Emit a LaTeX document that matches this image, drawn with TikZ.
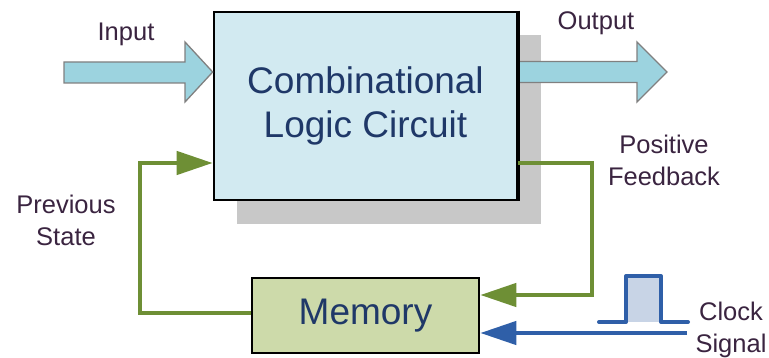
\documentclass[tikz,border=0pt]{standalone}
\usepackage{fontspec}
\setmainfont{Liberation Sans}
\usetikzlibrary{arrows.meta,calc}
\definecolor{boxblue}{HTML}{D2EAF1}
\definecolor{shadowgray}{HTML}{C8C8C8}
\definecolor{memgreen}{HTML}{CDDAAA}
\definecolor{linegreen}{HTML}{6E8F35}
\definecolor{lineblue}{HTML}{2F5FA8}
\definecolor{arrowcyan}{HTML}{9CD3DF}
\definecolor{arrowedge}{HTML}{808080}
\definecolor{pulsefill}{HTML}{C8D4E6}
\definecolor{labelcol}{HTML}{3A2440}
\definecolor{navy}{HTML}{1F3868}
\begin{document}
\begin{tikzpicture}[x=1pt,y=-1pt,
  blockbox/.style={draw=black,line width=2.6pt,inner sep=0pt,align=center,
    text=navy,font=\fontsize{37}{44}\selectfont},
  lbl/.style={text=labelcol,font=\fontsize{25.5}{32}\selectfont,align=center,inner sep=0pt,anchor=north},
  bigarrow/.style={fill=arrowcyan,draw=arrowedge,line width=1.3pt,line join=miter},
  fbline/.style={draw=linegreen,line width=4.5pt,line join=miter,
    -{Triangle[length=36pt,width=23pt]}},
  clkline/.style={draw=lineblue,line width=4.5pt,
    -{Triangle[length=36pt,width=23pt]}}
]
\useasboundingbox (0,0) rectangle (769,358);
% shadow
\fill[shadowgray] (237,35) rectangle (541,224);
% main block
\node[blockbox,fill=boxblue,minimum width=303pt,minimum height=188pt] (main) at (365.5,106)
  {Combinational\\Logic Circuit};
% memory block
\node[blockbox,fill=memgreen,minimum width=227pt,minimum height=75pt] (mem) at (365.5,315.5) {Memory};
% input arrow
\coordinate (inT) at (main.west |- 0,72);
\draw[bigarrow] (64,62) -- (185,62) -- (185,42) -- (inT) -- (185,102) -- (185,83) -- (64,83) -- cycle;
% output arrow
\coordinate (outS) at (main.east |- 0,72);
\draw[bigarrow] ($(outS)+(0,-10.5)$) -- (637,61.5) -- (637,42) -- (667,72) -- (637,102) -- (637,82.5) -- ($(outS)+(0,10.5)$);
\draw[black,line width=2.6pt] (main.north east) -- (main.south east);
% feedback
\coordinate (fbR) at (592,163);
\draw[fbline] (main.east |- 0,163) -- (fbR) |- (mem.east |- 0,295);
% previous state
\coordinate (psL) at (140,313);
\draw[fbline] (mem.west |- 0,313) -- (psL) |- (main.west |- 0,163);
% clock
\coordinate (clkR) at (687,333);
\draw[clkline] (clkR) -- (mem.east |- clkR);
% pulse
\fill[pulsefill] (626,322) rectangle (661,276);
\draw[lineblue,line width=4pt,line join=round,line cap=round]
  (599,322) -- (626,322) -- (626,276) -- (661,276) -- (661,322) -- (688,322);
% labels
\node[lbl] (lin) at (126,22.5) {Input};
\node[lbl] (lout) at (596,11.5) {Output};
\node[lbl] (lfb) at (664,134.5) {Positive\\Feedback};
\node[lbl] (lps) at (66,194.5) {Previous\\State};
\node[lbl] (lclk) at (731,301.5) {Clock\\Signal};
\end{tikzpicture}
\end{document}
